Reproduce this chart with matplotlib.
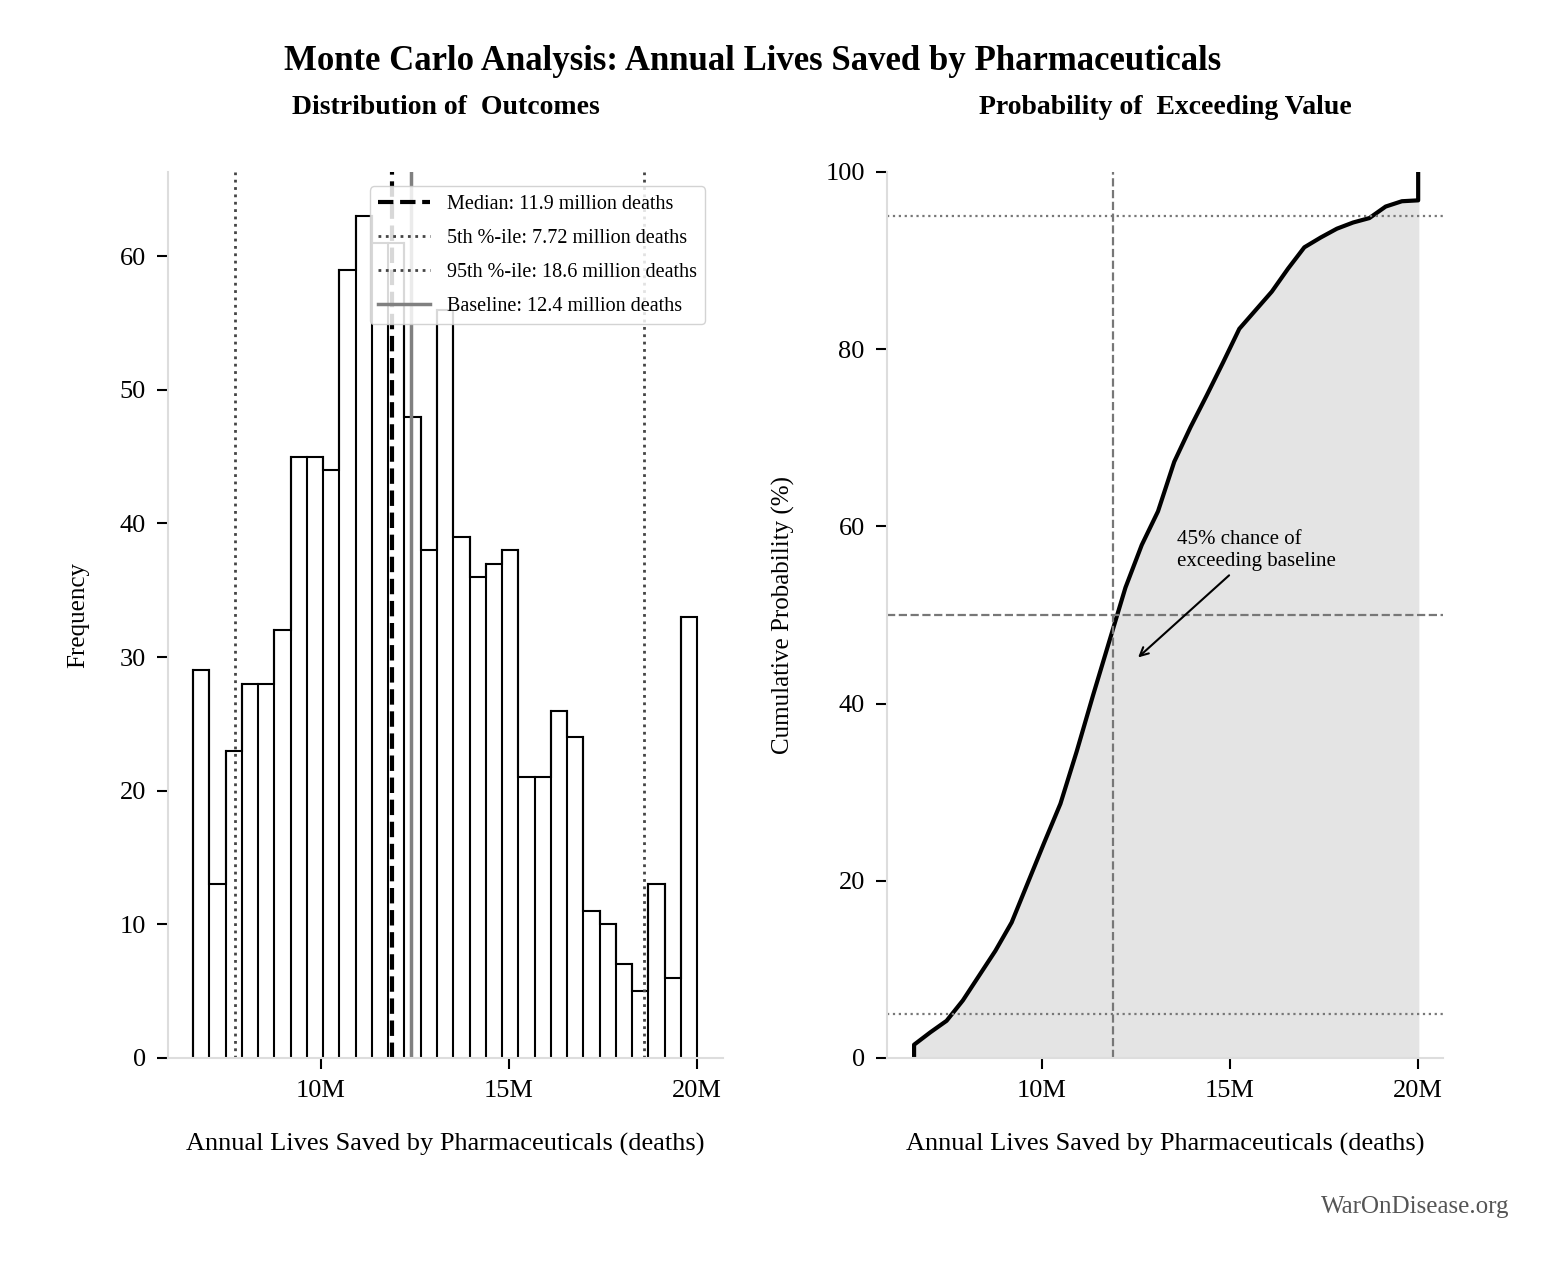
import matplotlib
matplotlib.use("Agg")
import matplotlib.pyplot as plt
import numpy as np

plt.rcParams['font.family'] = ['Liberation Serif', 'DejaVu Serif']

# Data (millions of deaths)
bin_lo, bin_hi = 6.6, 20.0
counts = [29, 13, 23, 28, 28, 32, 45, 45, 44, 59, 63, 61, 61, 48, 38, 56,
          39, 36, 37, 38, 21, 21, 26, 24, 11, 10, 7, 5, 13, 6, 33]
median, p5, p95, baseline = 11.9, 7.72, 18.6, 12.4
x_ticks = [10, 15, 20]
x_labels = ['10M', '15M', '20M']

edges = np.linspace(bin_lo, bin_hi, len(counts) + 1)
grey = '#dddddd'

fig = plt.figure(figsize=(15.67, 12.8), dpi=100)
ax1 = fig.add_axes([168 / 1567, 1 - 1058 / 1280, 555 / 1567, 886 / 1280])
ax2 = fig.add_axes([887 / 1567, 1 - 1058 / 1280, 556 / 1567, 886 / 1280])

# Histogram
ax1.stairs(counts, edges, fill=False, edgecolor='black', linewidth=1.5)
for i, c in enumerate(counts):
    ax1.plot([edges[i], edges[i]], [0, max(c, counts[i - 1] if i > 0 else 0)], color='black', lw=1.5)
ax1.axvline(median, color='black', ls='--', lw=3, label=f'Median: {median} million deaths')
ax1.axvline(p5, color='#444444', ls=':', lw=2, label=f'5th %-ile: {p5} million deaths')
ax1.axvline(p95, color='#444444', ls=':', lw=2, label=f'95th %-ile: {p95} million deaths')
ax1.axvline(baseline, color='#808080', ls='-', lw=2.5, label=f'Baseline: {baseline} million deaths')
ax1.set_xlim(5.93, 20.69)
ax1.set_ylim(0, 66.3)
ax1.set_xticks(x_ticks, x_labels)
ax1.set_ylabel('Frequency', fontsize=18, labelpad=22)
ax1.set_xlabel('Annual Lives Saved by Pharmaceuticals (deaths)', fontsize=19, labelpad=22)
ax1.set_title('Distribution of  Outcomes', fontsize=20, fontweight='bold', pad=42)
leg = ax1.legend(loc='upper right', fontsize=14.5, framealpha=0.85, edgecolor='#cccccc',
                 bbox_to_anchor=(0.985, 0.995), handlelength=2.6, labelspacing=0.75)

# CDF built from histogram counts
cum = np.concatenate([[0], np.cumsum(counts[:-1])]) / sum(counts) * 100
cx = np.concatenate([[bin_lo], edges[:-1], [bin_hi, bin_hi]])
cy = np.concatenate([[0], [cum[0] + 1.5], cum[1:], [cum[-1] + 0.1, 100]])
ax2.fill_between(cx, 0, cy, color='#e4e4e4')
ax2.plot(cx, cy, color='black', lw=3)
ax2.axvline(median, color='#777777', ls='--', lw=1.6)
ax2.axhline(50, color='#777777', ls='--', lw=1.6)
ax2.axhline(5, color='#777777', ls=':', lw=1.6)
ax2.axhline(95, color='#777777', ls=':', lw=1.6)
ax2.annotate('45% chance of\nexceeding baseline', xy=(12.5, 45), xytext=(13.6, 55),
             fontsize=15, arrowprops=dict(arrowstyle='->', color='black', lw=1.5),
             va='bottom')
ax2.set_xlim(5.88, 20.66)
ax2.set_ylim(0, 100)
ax2.set_xticks(x_ticks, x_labels)
ax2.set_ylabel('Cumulative Probability (%)', fontsize=18, labelpad=22)
ax2.set_xlabel('Annual Lives Saved by Pharmaceuticals (deaths)', fontsize=19, labelpad=22)
ax2.set_title('Probability of  Exceeding Value', fontsize=20, fontweight='bold', pad=42)

for ax in (ax1, ax2):
    for s in ('top', 'right'):
        ax.spines[s].set_visible(False)
    for s in ('left', 'bottom'):
        ax.spines[s].set_color(grey)
        ax.spines[s].set_linewidth(1.5)
    ax.tick_params(labelsize=19, length=8, width=1.5, color='black', pad=8)

fig.suptitle('Monte Carlo Analysis: Annual Lives Saved by Pharmaceuticals', fontsize=25,
             fontweight='bold', y=0.965, x=0.48)
fig.text(0.963, 0.052, 'WarOnDisease.org', fontsize=18, color='#555555', ha='right')

fig.savefig('out.png', dpi=100)
